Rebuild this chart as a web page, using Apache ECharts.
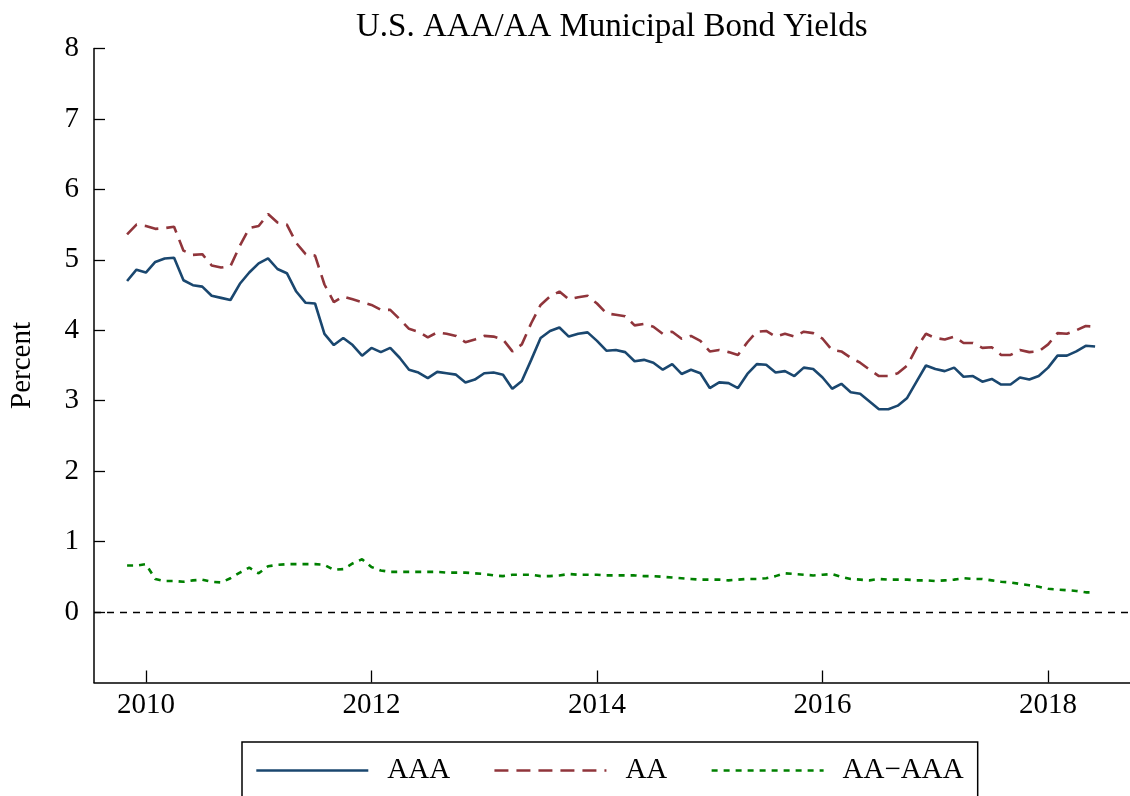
<!DOCTYPE html>
<html>
<head>
<meta charset="utf-8">
<title>U.S. AAA/AA Municipal Bond Yields</title>
<script src="https://cdn.jsdelivr.net/npm/echarts@6/dist/echarts.min.js"></script>
<style>
    html, body { margin: 0; padding: 0; background: #fff; }
    .yield_chart { width: 1130px; height: 796px; }
</style>
</head>
<body>
<div class="yield_chart"></div>
<script>
// monthly data, Nov 2009 .. Jun 2018
var startYear = 2009;
var startMonth = 11;
var aaa = [4.70, 4.86, 4.82, 4.97, 5.02, 5.03, 4.71, 4.64, 4.62, 4.49, 4.46, 4.43,
    4.66, 4.82, 4.95, 5.02, 4.87, 4.81, 4.55, 4.39, 4.38, 3.95, 3.79, 3.89,
    3.79, 3.64, 3.75, 3.69, 3.75, 3.61, 3.44, 3.40, 3.32, 3.41, 3.39, 3.37,
    3.26, 3.30, 3.39, 3.40, 3.37, 3.17, 3.28, 3.58, 3.89, 3.99, 4.04, 3.91,
    3.95, 3.97, 3.85, 3.71, 3.72, 3.69, 3.56, 3.58, 3.54, 3.44, 3.52, 3.38,
    3.44, 3.39, 3.18, 3.26, 3.25, 3.18, 3.38, 3.52, 3.51, 3.40, 3.42, 3.35,
    3.47, 3.45, 3.33, 3.17, 3.24, 3.12, 3.10, 2.99, 2.88, 2.88, 2.93, 3.04,
    3.27, 3.50, 3.45, 3.42, 3.47, 3.34, 3.35, 3.27, 3.31, 3.23, 3.23, 3.33,
    3.30, 3.35, 3.47, 3.64, 3.64, 3.70, 3.78, 3.77];
var aa = [5.36, 5.50, 5.48, 5.44, 5.45, 5.47, 5.13, 5.07, 5.08, 4.92, 4.89, 4.91,
    5.20, 5.45, 5.48, 5.65, 5.53, 5.50, 5.24, 5.08, 5.06, 4.65, 4.40, 4.48,
    4.44, 4.40, 4.36, 4.29, 4.29, 4.16, 4.02, 3.98, 3.90, 3.97, 3.95, 3.92,
    3.83, 3.87, 3.92, 3.91, 3.87, 3.70, 3.80, 4.10, 4.36, 4.48, 4.55, 4.44,
    4.47, 4.49, 4.38, 4.24, 4.22, 4.20, 4.07, 4.09, 4.05, 3.95, 3.98, 3.88,
    3.92, 3.85, 3.70, 3.72, 3.69, 3.65, 3.83, 3.98, 3.99, 3.91, 3.95, 3.91,
    3.98, 3.96, 3.88, 3.72, 3.70, 3.61, 3.54, 3.44, 3.35, 3.35, 3.39, 3.50,
    3.75, 3.95, 3.89, 3.87, 3.91, 3.82, 3.82, 3.75, 3.76, 3.65, 3.65, 3.72,
    3.69, 3.70, 3.80, 3.96, 3.95, 4.00, 4.06, 4.05];
var spread = [0.66, 0.66, 0.68, 0.47, 0.44, 0.44, 0.43, 0.45, 0.46, 0.43, 0.42, 0.48,
    0.56, 0.63, 0.55, 0.65, 0.67, 0.68, 0.68, 0.68, 0.68, 0.67, 0.60, 0.61,
    0.69, 0.75, 0.64, 0.59, 0.57, 0.57, 0.57, 0.57, 0.57, 0.57, 0.56, 0.56,
    0.56, 0.55, 0.54, 0.52, 0.51, 0.53, 0.53, 0.53, 0.51, 0.51, 0.52, 0.54,
    0.53, 0.53, 0.53, 0.52, 0.52, 0.52, 0.52, 0.51, 0.51, 0.50, 0.49, 0.48,
    0.47, 0.46, 0.46, 0.46, 0.45, 0.46, 0.47, 0.47, 0.48, 0.51, 0.55, 0.54,
    0.53, 0.52, 0.53, 0.54, 0.50, 0.47, 0.46, 0.45, 0.47, 0.46, 0.46, 0.46,
    0.45, 0.45, 0.44, 0.45, 0.46, 0.48, 0.47, 0.47, 0.45, 0.43, 0.42, 0.40,
    0.38, 0.36, 0.33, 0.32, 0.31, 0.30, 0.28, 0.28];
var yearTicks = [2010, 2012, 2014, 2016, 2018];
var percentTicks = [0, 1, 2, 3, 4, 5, 6, 7, 8];

var serif = 'Liberation Serif';

window.addEventListener('load', function() {
    var chart = echarts.init(document.querySelector('.yield_chart'));

    // pair each value with its date as a decimal year
    function toPoints(values) {
        var pts = [];
        for (var i = 0; i < values.length; i++) {
            var t = startYear + (startMonth - 1 + i) / 12;
            pts.push([t, values[i]]);
        }
        return pts;
    }

    chart.setOption({
        animation: false,
        title: {
            text: 'U.S. AAA/AA Municipal Bond Yields',
            left: 351,
            top: 6,
            textStyle: { fontFamily: serif, fontSize: 33, fontWeight: 'normal', color: '#000' }
        },
        grid: {
            left: 92,
            right: 0,
            top: 48.5,
            bottom: 113.5
        },
        legend: {
            left: 242,
            top: 742,
            padding: [14, 14, 20, 13],
            borderColor: '#000',
            borderWidth: 1.5,
            itemWidth: 112,
            itemHeight: 14,
            itemGap: 43,
            itemStyle: { opacity: 0 },
            lineStyle: { width: 2.6 },
            textStyle: { fontFamily: serif, fontSize: 29, color: '#000', padding: [0, 0, 0, 14] },
            data: ['AAA', 'AA', 'AA\u2212AAA']
        },
        xAxis: {
            type: 'value',
            min: 2009.54,
            max: 2018.726,
            axisLine: { onZero: false, lineStyle: { color: '#000', width: 1.5 } },
            axisTick: { inside: true, length: 12, customValues: yearTicks, lineStyle: { color: '#000', width: 1.3 } },
            axisLabel: {
                customValues: yearTicks,
                margin: 8,
                fontFamily: serif,
                fontSize: 29,
                color: '#000',
                formatter: function(v) { return String(v); }
            },
            splitLine: { show: false }
        },
        yAxis: {
            type: 'value',
            min: -1,
            max: 8,
            name: 'Percent',
            nameLocation: 'middle',
            nameRotate: 90,
            nameGap: 57,
            nameTextStyle: { fontFamily: serif, fontSize: 29, color: '#000' },
            axisLine: { show: true, lineStyle: { color: '#000', width: 1.5 } },
            axisTick: { show: true, inside: true, length: 11, customValues: percentTicks, lineStyle: { color: '#000', width: 1.3 } },
            axisLabel: {
                customValues: percentTicks,
                margin: 15,
                fontFamily: serif,
                fontSize: 29,
                color: '#000'
            },
            splitLine: { show: false }
        },
        series: [{
            name: 'AAA',
            type: 'line',
            data: toPoints(aaa),
            symbol: 'none',
            color: '#1a476f',
            lineStyle: { color: '#1a476f', width: 2.6 },
            markLine: {
                silent: true,
                symbol: 'none',
                label: { show: false },
                lineStyle: { color: '#000', width: 1.3, type: [7, 6] },
                data: [{ yAxis: 0 }]
            }
        }, {
            name: 'AA',
            type: 'line',
            data: toPoints(aa),
            symbol: 'none',
            color: '#90353b',
            lineStyle: { color: '#90353b', width: 2.6, type: [14, 8] }
        }, {
            name: 'AA\u2212AAA',
            type: 'line',
            data: toPoints(spread),
            symbol: 'none',
            color: '#008000',
            lineStyle: { color: '#008000', width: 2.6, type: [6, 6] }
        }]
    });
});
</script>
</body>
</html>
